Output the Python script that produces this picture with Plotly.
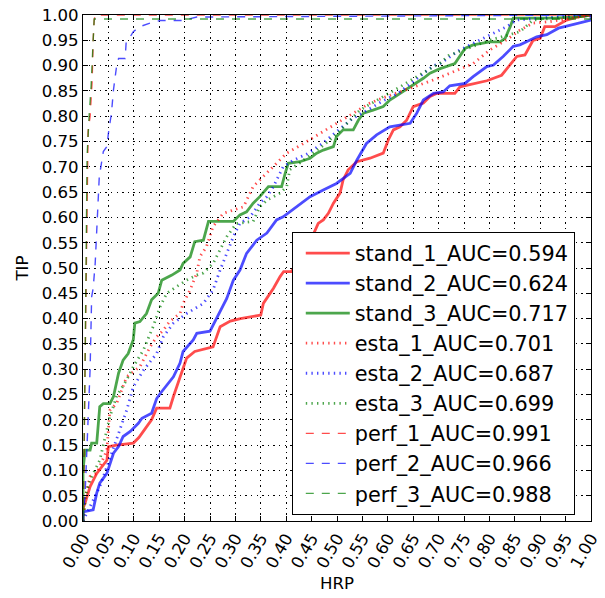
import plotly.graph_objects as go

# ROC curves: false-positive rate (HRP) vs true-positive rate (TIP)
stand_1_x = [0, 0, 0.004, 0.014, 0.027, 0.047, 0.05, 0.066, 0.099, 0.11, 0.125, 0.135, 0.145, 0.171, 0.178,
             0.191, 0.204, 0.22, 0.256, 0.27, 0.29, 0.31, 0.35, 0.355, 0.362, 0.375, 0.388, 0.395, 0.41, 0.43,
             0.455, 0.463, 0.473, 0.483, 0.493, 0.506, 0.512, 0.522, 0.539, 0.565, 0.591, 0.601, 0.611, 0.624,
             0.637, 0.65, 0.67, 0.683, 0.696, 0.732, 0.742, 0.762, 0.795, 0.824, 0.854, 0.87, 0.886, 0.9, 0.909,
             0.929, 0.952, 0.978, 1.0]
stand_1_y = [0, 0.025, 0.035, 0.068, 0.094, 0.12, 0.147, 0.150, 0.154, 0.165, 0.186, 0.2, 0.223, 0.223, 0.246,
             0.285, 0.322, 0.335, 0.344, 0.384, 0.395, 0.40, 0.407, 0.43, 0.44, 0.46, 0.483, 0.493, 0.493, 0.52,
             0.57, 0.588, 0.595, 0.608, 0.628, 0.648, 0.674, 0.694, 0.71, 0.717, 0.727, 0.753, 0.773, 0.779,
             0.792, 0.819, 0.826, 0.839, 0.845, 0.845, 0.858, 0.862, 0.87, 0.881, 0.918, 0.921, 0.95, 0.954, 0.977,
             0.977, 0.99, 0.997, 1.0]

stand_2_x = [0, 0, 0.02, 0.027, 0.033, 0.047, 0.06, 0.07, 0.079, 0.093, 0.109, 0.116, 0.135, 0.145, 0.152, 0.165,
             0.178, 0.191, 0.197, 0.217, 0.224, 0.25, 0.263, 0.283, 0.296, 0.309, 0.322, 0.342, 0.362, 0.381, 0.394,
             0.421, 0.447, 0.473, 0.499, 0.526, 0.539, 0.558, 0.578, 0.604, 0.644, 0.657, 0.67, 0.69, 0.709, 0.722,
             0.752, 0.768, 0.795, 0.808, 0.827, 0.847, 0.86, 0.873, 0.893, 0.913, 0.936, 0.952, 0.978, 1.0, 1.0]
stand_2_y = [0, 0.018, 0.022, 0.055, 0.075, 0.094, 0.134, 0.147, 0.167, 0.177, 0.193, 0.203, 0.213, 0.242, 0.252,
             0.269, 0.285, 0.312, 0.335, 0.358, 0.371, 0.375, 0.40, 0.44, 0.476, 0.496, 0.529, 0.555, 0.569, 0.595,
             0.601, 0.621, 0.641, 0.654, 0.667, 0.687, 0.713, 0.746, 0.763, 0.779, 0.786, 0.806, 0.832, 0.845,
             0.848, 0.86, 0.865, 0.878, 0.898, 0.901, 0.918, 0.938, 0.941, 0.947, 0.957, 0.961, 0.974, 0.978,
             0.984, 0.99, 1.0]

stand_3_x = [0, 0, 0.004, 0.014, 0.017, 0.027, 0.033, 0.04, 0.053, 0.06, 0.07, 0.079, 0.089, 0.099, 0.102, 0.112,
             0.125, 0.135, 0.148, 0.155, 0.175, 0.191, 0.197, 0.211, 0.22, 0.237, 0.247, 0.296, 0.309, 0.322, 0.335,
             0.348, 0.365, 0.391, 0.398, 0.404, 0.427, 0.447, 0.46, 0.473, 0.493, 0.499, 0.512, 0.532, 0.542, 0.552,
             0.571, 0.591, 0.604, 0.624, 0.644, 0.657, 0.67, 0.683, 0.703, 0.732, 0.752, 0.768, 0.801, 0.821, 0.831,
             0.841, 0.847, 0.93, 0.98, 1.0]
stand_3_y = [0, 0.10, 0.14, 0.14, 0.154, 0.154, 0.226, 0.232, 0.232, 0.246, 0.292, 0.318, 0.331, 0.358, 0.391,
             0.394, 0.41, 0.437, 0.45, 0.476, 0.486, 0.496, 0.509, 0.522, 0.552, 0.555, 0.592, 0.592, 0.605, 0.611,
             0.628, 0.641, 0.661, 0.661, 0.687, 0.707, 0.71, 0.717, 0.727, 0.733, 0.74, 0.76, 0.773, 0.773, 0.792,
             0.806, 0.812, 0.819, 0.832, 0.845, 0.858, 0.865, 0.875, 0.885, 0.894, 0.904, 0.934, 0.941, 0.947,
             0.947, 0.954, 0.977, 0.994, 0.994, 0.997, 1.0]

esta_1_x = [0, 0.005, 0.014, 0.027, 0.047, 0.053, 0.066, 0.086, 0.112, 0.132, 0.145, 0.158, 0.171, 0.191, 0.197,
            0.211, 0.224, 0.23, 0.243, 0.256, 0.276, 0.296, 0.316, 0.335, 0.348, 0.368, 0.401, 0.434, 0.467, 0.499,
            0.532, 0.565, 0.598, 0.631, 0.663, 0.696, 0.735, 0.768, 0.801, 0.834, 0.86, 0.886, 0.919, 0.965, 1.0]
esta_1_y = [0, 0.05, 0.088, 0.094, 0.14, 0.219, 0.232, 0.285, 0.305, 0.344, 0.364, 0.377, 0.395, 0.41, 0.43,
            0.457, 0.49, 0.522, 0.542, 0.582, 0.608, 0.615, 0.621, 0.661, 0.674, 0.694, 0.727, 0.746, 0.766, 0.786,
            0.806, 0.826, 0.839, 0.85, 0.862, 0.874, 0.891, 0.904, 0.931, 0.951, 0.97, 0.984, 0.987, 0.994, 1.0]

esta_2_x = [0, 0.014, 0.033, 0.047, 0.066, 0.086, 0.099, 0.119, 0.145, 0.158, 0.178, 0.204, 0.237, 0.256, 0.27,
            0.283, 0.296, 0.309, 0.329, 0.348, 0.362, 0.375, 0.394, 0.414, 0.44, 0.47, 0.5, 0.53, 0.56, 0.59,
            0.62, 0.65, 0.69, 0.703, 0.742, 0.768, 0.801, 0.834, 0.854, 0.9, 1.0]
esta_2_y = [0, 0.028, 0.068, 0.107, 0.16, 0.219, 0.265, 0.298, 0.331, 0.364, 0.391, 0.41, 0.43, 0.457, 0.496,
            0.529, 0.562, 0.588, 0.601, 0.628, 0.641, 0.661, 0.70, 0.713, 0.725, 0.745, 0.77, 0.795, 0.812, 0.83,
            0.845, 0.868, 0.9, 0.904, 0.931, 0.944, 0.961, 0.977, 0.99, 0.994, 1.0]

esta_3_x = [0, 0.005, 0.014, 0.033, 0.053, 0.066, 0.086, 0.099, 0.119, 0.138, 0.152, 0.165, 0.184, 0.204, 0.224,
            0.237, 0.256, 0.27, 0.283, 0.302, 0.335, 0.348, 0.362, 0.388, 0.401, 0.407, 0.43, 0.47, 0.5, 0.545,
            0.6, 0.624, 0.66, 0.703, 0.72, 0.76, 0.8, 0.86, 0.886, 0.93, 1.0]
esta_3_y = [0, 0.05, 0.081, 0.12, 0.206, 0.246, 0.279, 0.305, 0.338, 0.384, 0.424, 0.45, 0.463, 0.476, 0.486,
            0.49, 0.509, 0.536, 0.562, 0.588, 0.592, 0.621, 0.634, 0.648, 0.661, 0.694, 0.71, 0.74, 0.765, 0.812,
            0.843, 0.858, 0.88, 0.905, 0.92, 0.935, 0.95, 0.967, 0.99, 0.994, 1.0]

perf_1_x = [0, 0.002, 0.004, 0.006, 0.008, 0.01, 0.014, 0.018, 0.02, 0.022, 0.024, 1.0]
perf_1_y = [0, 0.1, 0.3, 0.5, 0.7, 0.77, 0.8, 0.87, 0.95, 0.99, 1.0, 1.0]

perf_2_x = [0, 0.004, 0.01, 0.014, 0.017, 0.02, 0.024, 0.027, 0.032, 0.04, 0.047, 0.05, 0.056, 0.06, 0.066,
            0.07, 0.083, 0.085, 0.093, 0.099, 0.112, 0.132, 0.152, 0.197, 0.224, 1.0]
perf_2_y = [0, 0.05, 0.2, 0.3, 0.443, 0.46, 0.509, 0.582, 0.68, 0.73, 0.74, 0.766, 0.806, 0.852, 0.898,
            0.914, 0.914, 0.947, 0.957, 0.967, 0.977, 0.984, 0.989, 0.989, 0.996, 1.0]

perf_3_x = [0, 0.002, 0.004, 0.006, 0.008, 0.012, 0.016, 0.02, 0.022, 1.0, 1.0]
perf_3_y = [0, 0.12, 0.3, 0.5, 0.72, 0.8, 0.86, 0.95, 0.992, 0.992, 1.0]

series_names = ["stand_1_AUC=0.594", "stand_2_AUC=0.624", "stand_3_AUC=0.717",
                "esta_1_AUC=0.701", "esta_2_AUC=0.687", "esta_3_AUC=0.699",
                "perf_1_AUC=0.991", "perf_2_AUC=0.966", "perf_3_AUC=0.988"]
series_x = [stand_1_x, stand_2_x, stand_3_x, esta_1_x, esta_2_x, esta_3_x, perf_1_x, perf_2_x, perf_3_x]
series_y = [stand_1_y, stand_2_y, stand_3_y, esta_1_y, esta_2_y, esta_3_y, perf_1_y, perf_2_y, perf_3_y]

RED = "rgba(255,0,0,0.7)"
BLUE = "rgba(0,0,255,0.7)"
GREEN = "rgba(0,128,0,0.7)"
colors = [RED, BLUE, GREEN] * 3
# solid / dotted / dashed groups
styles = [("solid", 2.8)] * 3 + [("1.4px,4.2px", 2.8)] * 3 + [("8px,8px", 1.4)] * 3

FONT = "DejaVu Sans"
FS = 16.6
LEGEND_FS = 20.8

fig = go.Figure()
for i, (name, xs, ys) in enumerate(zip(series_names, series_x, series_y)):
    dash, width = styles[i]
    fig.add_trace(go.Scatter(
        x=xs, y=ys, mode="lines", name=name, legendgroup=f"g{i}",
        line=dict(color=colors[i], width=width, dash=dash),
    ))

axis_common = dict(
    range=[0, 1], dtick=0.05, tick0=0, tickformat=".2f",
    showline=True, linecolor="black", linewidth=1, mirror="allticks",
    ticks="inside", ticklen=5, tickcolor="black", tickwidth=1,
    showgrid=True, gridcolor="black", gridwidth=0.7, griddash="1.4px,4.2px",
    zeroline=False, tickfont=dict(family=FONT, size=FS, color="black"),
    automargin=False,
)

fig.update_xaxes(**axis_common, tickangle=-60,
                 title=dict(text="HRP", font=dict(family=FONT, size=FS, color="black"), standoff=6))
fig.update_yaxes(**axis_common,
                 title=dict(text="TIP", font=dict(family=FONT, size=FS, color="black"), standoff=8))

fig.update_layout(
    width=605, height=598,
    margin=dict(l=83, r=14, t=15, b=77),
    paper_bgcolor="white", plot_bgcolor="white",
    font=dict(family=FONT, size=FS, color="black"),
    legend=dict(
        x=0.411, y=0.571, xanchor="left", yanchor="top",
        bgcolor="white", bordercolor="black", borderwidth=1,
        font=dict(family=FONT, size=LEGEND_FS, color="black"),
        tracegroupgap=0, itemwidth=44, indentation=8,
    ),
    showlegend=True,
)

fig.write_html("out.html")
